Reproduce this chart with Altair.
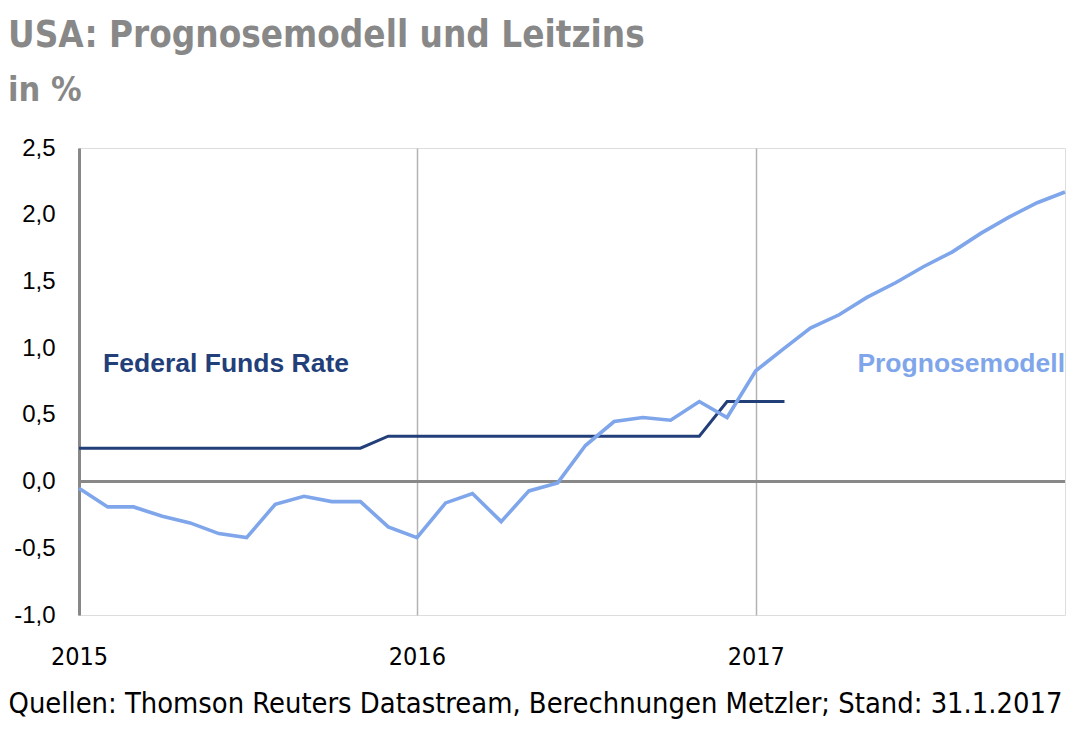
import altair as alt
import pandas as pd

# ---- data ----
prog_dates = pd.date_range("2015-01-01", "2017-12-01", freq="MS")
prog_values = [
    -0.05, -0.19, -0.19, -0.26, -0.31, -0.39, -0.42, -0.17, -0.11, -0.15, -0.15, -0.34,
    -0.42, -0.16, -0.09, -0.30, -0.07, -0.01, 0.27, 0.45, 0.48, 0.46, 0.60, 0.48,
    0.83, 1.00, 1.15, 1.25, 1.38, 1.49, 1.61, 1.72, 1.86, 1.98, 2.09, 2.17,
]
fed_dates = pd.date_range("2015-01-01", "2017-02-01", freq="MS")
fed_values = [
    0.25, 0.25, 0.25, 0.25, 0.25, 0.25, 0.25, 0.25, 0.25, 0.25, 0.25, 0.34,
    0.34, 0.34, 0.34, 0.34, 0.34, 0.34, 0.34, 0.34, 0.34, 0.34, 0.34, 0.60,
    0.60, 0.60,
]
series_names = ["Federal Funds Rate", "Prognosemodell"]
series_colors = ["#233f7a", "#7fa6ea"]
series_widths = [3, 3.6]

label_text = ["Federal Funds Rate", "Prognosemodell"]
label_date = ["2015-01-27", "2017-12-01"]
label_value = [0.88, 0.88]

df = pd.concat([
    pd.DataFrame({"date": fed_dates, "value": fed_values, "series": series_names[0]}),
    pd.DataFrame({"date": prog_dates, "value": prog_values, "series": series_names[1]}),
])
labels = pd.DataFrame({"text": label_text, "date": pd.to_datetime(label_date),
                       "value": label_value, "series": series_names})

FONT = "Liberation Sans"
NARROW = "DejaVu Sans Condensed"

x_scale = alt.Scale(domain=[alt.DateTime(year=2015, month=1, date=1),
                            alt.DateTime(year=2017, month=12, date=1)])
y_scale = alt.Scale(domain=[-1.0, 2.5], nice=False)
color_scale = alt.Scale(domain=series_names, range=series_colors)

x_axis = alt.Axis(
    values=[alt.DateTime(year=y, month=1, date=1) for y in (2015, 2016, 2017)],
    format="%Y", labelFont=NARROW, labelFontSize=25, labelColor="#000",
    labelFlush=False, labelAlign="center",
    labelPadding=29, ticks=False, domain=False, grid=True, gridColor="#b3b3b3",
    gridWidth=1.5,
    title="Quellen: Thomson Reuters Datastream, Berechnungen Metzler; Stand: 31.1.2017",
    titleFont=NARROW, titleFontSize=28.8, titleFontWeight="normal", titleColor="#000",
    titleAlign="left", titleAnchor="start", titleBaseline="alphabetic",
    titleX=-71, titleY=97,
)
y_axis = alt.Axis(
    values=[-1.0, -0.5, 0.0, 0.5, 1.0, 1.5, 2.0, 2.5],
    labelExpr="replace(replace(format(datum.value, '.1f'), '.', ','), '\u2212', '-')",
    labelFont=FONT, labelFontSize=24, labelColor="#000", labelPadding=24,
    ticks=False, grid=False, domain=True, domainColor="#888", domainWidth=3,
    title=None,
)

lines = alt.Chart(df).mark_line().encode(
    x=alt.X("date:T", scale=x_scale, axis=x_axis),
    y=alt.Y("value:Q", scale=y_scale, axis=y_axis),
    color=alt.Color("series:N", scale=color_scale, legend=None),
    strokeWidth=alt.StrokeWidth("series:N",
                                scale=alt.Scale(domain=series_names, range=series_widths),
                                legend=None),
)

zero = alt.Chart(pd.DataFrame({"v": [0.0]})).mark_rule(color="#888", strokeWidth=3).encode(
    y=alt.Y("v:Q", scale=y_scale)
)

def label_layer(name, align):
    return alt.Chart(labels).transform_filter(alt.datum.series == name).mark_text(
        font=FONT, fontSize=26.5, fontWeight="bold", baseline="middle", align=align
    ).encode(
        x=alt.X("date:T", scale=x_scale),
        y=alt.Y("value:Q", scale=y_scale),
        text="text:N",
        color=alt.Color("series:N", scale=color_scale, legend=None),
    )

chart = alt.layer(zero, lines, label_layer(series_names[0], "left"),
                  label_layer(series_names[1], "right")).properties(
    width=986, height=467,
    autosize=alt.AutoSizeParams(type="none"),
    padding={"left": 71, "top": 140, "right": 10, "bottom": 110},
    title=alt.TitleParams(
        text="USA: Prognosemodell und Leitzins", subtitle="in %",
        anchor="start", frame="group", dx=-71, offset=28,
        font=NARROW, fontSize=36.5, fontWeight="bold", color="#888",
        subtitleFont=NARROW, subtitleFontSize=34, subtitleFontWeight="bold",
        subtitleColor="#888", subtitlePadding=20,
    ),
).configure_view(stroke=None).configure(background="white")

chart.save("out.html", embed_options={"renderer": "svg", "actions": False})
